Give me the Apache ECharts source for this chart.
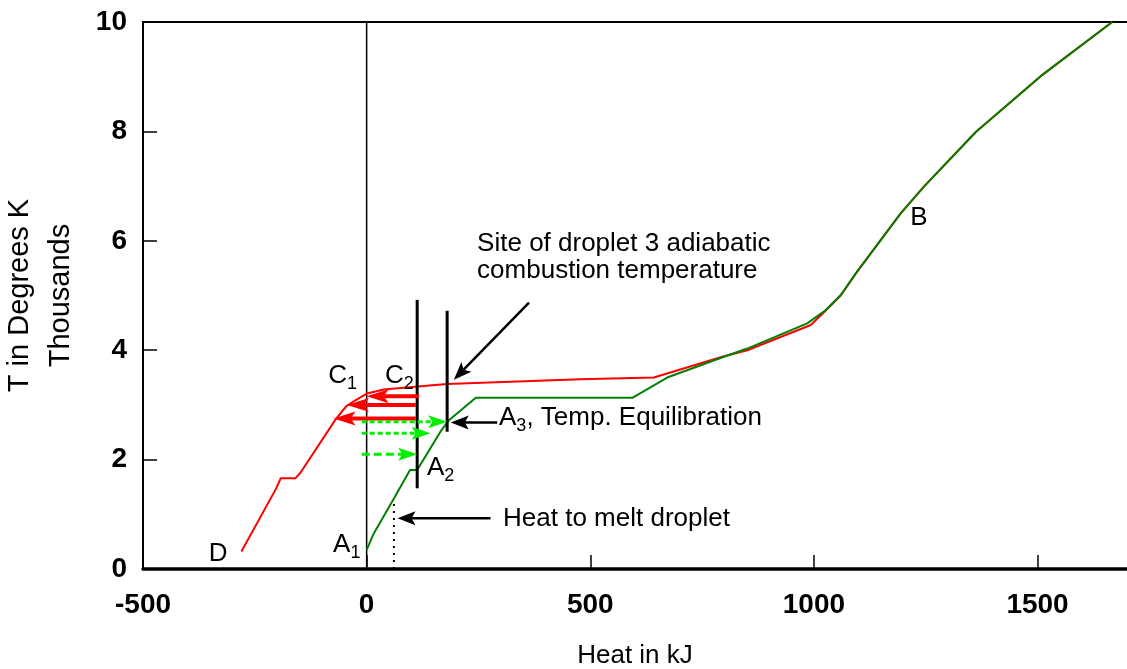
<!DOCTYPE html>
<html>
<head>
<meta charset="utf-8">
<script src="https://cdn.jsdelivr.net/npm/echarts@6/dist/echarts.min.js"></script>
<style>
html,body{margin:0;padding:0;background:#fff;}
#chart{width:1127px;height:669px;}
</style>
</head>
<body>
<div id="chart"></div>
<script>
// ---- data ----
const xTicks = [-500, 0, 500, 1000, 1500];
const yTicks = [0, 2, 4, 6, 8, 10];

// red curve (heat in kJ, T in thousands K)
const redHeat = [-280, -203, -192, -159, -148, -69, -45, -28, 1, 38, 180, 478, 642, 799, 851, 993, 1026, 1060, 1097, 1194, 1246, 1362, 1507, 1667];
const redTemp = [0.32, 1.46, 1.66, 1.66, 1.76, 2.74, 2.98, 3.07, 3.21, 3.28, 3.38, 3.47, 3.50, 3.89, 4.00, 4.46, 4.72, 5.00, 5.44, 6.50, 6.99, 7.99, 9.01, 10.0];

// green curve
const greenHeat = [0, 16, 61, 97, 113, 165, 184, 244, 594, 672, 799, 851, 985, 1026, 1060, 1097, 1194, 1246, 1362, 1507, 1667];
const greenTemp = [0.35, 0.65, 1.29, 1.81, 1.81, 2.51, 2.72, 3.13, 3.13, 3.50, 3.88, 4.03, 4.49, 4.73, 5.01, 5.44, 6.50, 6.99, 7.99, 9.01, 10.0];

// vertical black bars
const barHeat = [113, 180];
const barLow = [1.475, 2.51];
const barHigh = [4.92, 4.72];

// dotted melt line
const meltHeat = 61;
const meltTop = 1.29;

// arrows: from (x1,y1) to (x2,y2), kind
const arrowX1 = [117, 110, 110, -11, -11, -11, 363, 292, 277];
const arrowY1 = [3.16, 3.00, 2.75, 2.69, 2.48, 2.10, 4.87, 2.68, 0.93];
const arrowX2 = [0, -44, -74, 180, 143, 113, 195, 188, 69];
const arrowY2 = [3.16, 3.00, 2.75, 2.69, 2.48, 2.10, 3.46, 2.68, 0.93];
const arrowKind = [0, 0, 0, 1, 1, 2, 3, 3, 3];

// annotation texts and anchors (data units)
const noteText = ['Site of droplet 3 adiabatic\ncombustion temperature', '{n|A}{s|3}{n|, Temp. Equilibration}', 'Heat to melt droplet', 'D', '{n|A}{s|1}', '{n|C}{s|1}', '{n|C}{s|2}', '{n|A}{s|2}', 'B'];
const noteHeat = [247, 296, 305, -332, -75, -86, 41, 135, 1235];
const noteTemp = [5.69, 2.76, 0.91, 0.27, 0.44, 3.53, 3.53, 1.85, 6.42];
const noteAlign = ['left', 'left', 'left', 'center', 'left', 'left', 'left', 'left', 'center'];

// ---- chart ----
const FF = '"Liberation Sans", Arial, Helvetica, sans-serif';
const zip = (a, b) => a.map((v, i) => [v, b[i]]);

const arrowStyles = [
  {color: '#ff0000', width: 4, len: 22, half: 7, dash: null},
  {color: '#00ee00', width: 3, len: 19, half: 6.5, dash: [5, 3]},
  {color: '#00ee00', width: 3, len: 19, half: 6.5, dash: [8, 4]},
  {color: '#000000', width: 2.5, len: 18, half: 7, dash: null}
];

function renderArrow(params, api) {
  const p1 = api.coord([api.value(0), api.value(1)]);
  const p2 = api.coord([api.value(2), api.value(3)]);
  const st = arrowStyles[api.value(4)];
  const dx = p2[0] - p1[0], dy = p2[1] - p1[1];
  const d = Math.sqrt(dx * dx + dy * dy) || 1;
  const ux = dx / d, uy = dy / d, nx = -uy, ny = ux;
  const bx = p2[0] - ux * st.len, by = p2[1] - uy * st.len;
  const kx = p2[0] - ux * st.len * 0.78, ky = p2[1] - uy * st.len * 0.78;
  return {
    type: 'group',
    children: [
      {type: 'line', shape: {x1: p1[0], y1: p1[1], x2: kx, y2: ky},
       style: {stroke: st.color, lineWidth: st.width, lineDash: st.dash}},
      {type: 'polygon', shape: {points: [[p2[0], p2[1]], [bx + nx * st.half, by + ny * st.half], [kx, ky], [bx - nx * st.half, by - ny * st.half]]},
       style: {fill: st.color}}
    ]
  };
}

const barData = barHeat.map((x, i) => [x, barLow[i], x, barHigh[i]]);
function renderBar(params, api) {
  const p1 = api.coord([api.value(0), api.value(1)]);
  const p2 = api.coord([api.value(2), api.value(3)]);
  return {type: 'line', shape: {x1: p1[0], y1: p1[1], x2: p2[0], y2: p2[1]}, style: {stroke: '#000', lineWidth: 3}};
}

const richStyles = {
  n: {fontSize: 26, fontFamily: FF, fill: '#000', lineHeight: 34},
  s: {fontSize: 18, fontFamily: FF, fill: '#000', verticalAlign: 'bottom', lineHeight: 18}
};

function renderNote(params, api) {
  const i = params.dataIndex;
  const p = api.coord([api.value(0), api.value(1)]);
  return {
    type: 'text', x: p[0], y: p[1],
    style: {
      text: noteText[i], fill: '#000', fontSize: 26, fontFamily: FF, lineHeight: 27,
      align: noteAlign[i], verticalAlign: 'middle', rich: richStyles
    }
  };
}

const chart = echarts.init(document.getElementById('chart'), null, {renderer: 'canvas'});
chart.setOption({
  animation: false,
  backgroundColor: '#fff',
  grid: {left: 143, right: 0, top: 22, bottom: 100, containLabel: false, outerBoundsMode: 'none'},
  xAxis: [{
    type: 'value', min: -500, max: 1700, interval: 500,
    axisLine: {show: true, lineStyle: {color: '#000', width: 3.5}},
    axisTick: {show: true, inside: true, length: 14, lineStyle: {color: '#000', width: 1.5}},
    axisLabel: {showMaxLabel: false, margin: 22, fontSize: 28, fontWeight: 'bold', color: '#000', fontFamily: FF,
      formatter: v => (xTicks.indexOf(v) >= 0 ? String(v) : '')},
    splitLine: {show: false},
    name: 'Heat in kJ', nameLocation: 'middle', nameGap: 74,
    nameTextStyle: {fontSize: 26, color: '#000', fontFamily: FF}
  }, {
    type: 'value', position: 'top', min: -500, max: 1700,
    axisLine: {show: true, onZero: false, lineStyle: {color: '#000', width: 2}},
    axisTick: {show: false}, axisLabel: {show: false}, splitLine: {show: false}
  }],
  yAxis: {
    type: 'value', min: 0, max: 10, interval: 2,
    axisLine: {show: true, onZero: false, lineStyle: {color: '#000', width: 2}},
    axisTick: {show: true, inside: true, length: 14, lineStyle: {color: '#000', width: 1.5}},
    axisLabel: {margin: 16, fontSize: 28, fontWeight: 'bold', color: '#000', fontFamily: FF,
      formatter: v => (yTicks.indexOf(v) >= 0 ? String(v) : '')},
    splitLine: {show: false},
    name: 'T in Degrees K\nThousands', nameLocation: 'middle', nameRotate: 90, nameGap: 62,
    nameTextStyle: {fontSize: 29, lineHeight: 41, color: '#000', fontFamily: FF}
  },
  series: [
    {type: 'line', data: [[0, 0], [0, 10]], symbol: 'none', lineStyle: {color: '#000', width: 1.5}, z: 1, silent: true},
    {type: 'line', data: [[meltHeat, 0], [meltHeat, meltTop]], symbol: 'none', lineStyle: {color: '#000', width: 2, type: [2, 5]}, z: 1},
    {type: 'line', name: 'red', data: zip(redHeat, redTemp), symbol: 'none', lineStyle: {color: '#ff0000', width: 2}, z: 2},
    {type: 'line', name: 'green', data: zip(greenHeat, greenTemp), symbol: 'none', lineStyle: {color: '#008000', width: 2}, z: 3},
    {type: 'custom', renderItem: renderBar, data: barData, z: 4},
    {type: 'custom', renderItem: renderArrow, data: arrowX1.map((x, i) => [x, arrowY1[i], arrowX2[i], arrowY2[i], arrowKind[i]]), z: 5},
    {type: 'custom', renderItem: renderNote, data: noteHeat.map((x, i) => [x, noteTemp[i]]), z: 6}
  ]
});
</script>
</body>
</html>
